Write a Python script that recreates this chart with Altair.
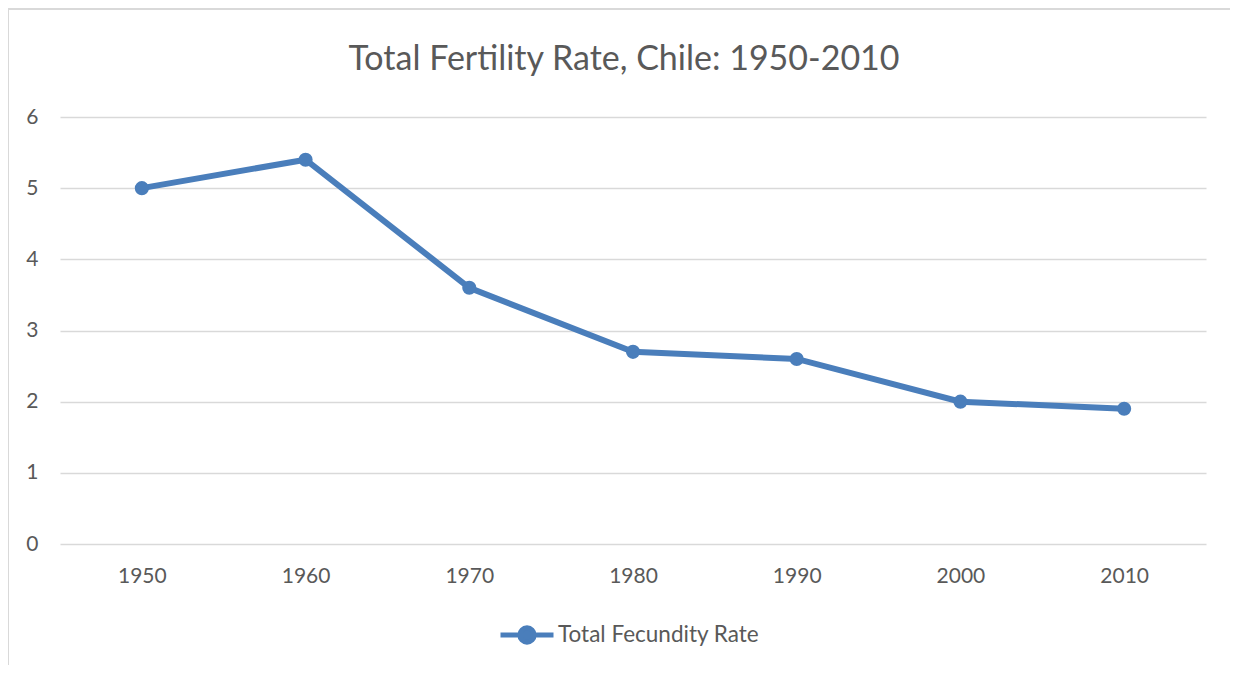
import altair as alt
import pandas as pd

years = ["1950", "1960", "1970", "1980", "1990", "2000", "2010"]
rates = [5.0, 5.4, 3.6, 2.7, 2.6, 2.0, 1.9]
series_name = "Total Fecundity Rate"
title_text = "Total Fertility Rate, Chile: 1950-2010"

df = pd.DataFrame({"year": years, "rate": rates, "series": [series_name] * len(years)})

BLUE = "#4a7ebb"
GRAY = "#595959"
FONT = "Lato"

legend_symbol = "M-1,0L1,0M-0.27,0A0.27,0.27 0 1,1 0.27,0A0.27,0.27 0 1,1 -0.27,0Z"

base = alt.Chart(df)

line = base.mark_line(strokeWidth=6, point=alt.OverlayMarkDef(size=200, filled=True, color=BLUE)).encode(
    x=alt.X("year:O", scale=alt.Scale(padding=0.5),
            axis=alt.Axis(title=None, labelAngle=0, domain=False, ticks=False, grid=False,
                          labelPadding=21, labelFontSize=21, labelColor=GRAY, labelFont=FONT)),
    y=alt.Y("rate:Q", scale=alt.Scale(domain=[0, 6], nice=False),
            axis=alt.Axis(title=None, values=[0, 1, 2, 3, 4, 5, 6], domain=False, ticks=False,
                          gridColor="#d9d9d9", gridWidth=1.3, labelPadding=22,
                          labelFontSize=21, labelColor=GRAY, labelFont=FONT)),
    color=alt.Color("series:N", scale=alt.Scale(range=[BLUE]),
                    legend=alt.Legend(title=None, orient="none", legendX=438, legendY=489,
                                      symbolType=legend_symbol, symbolSize=2809,
                                      symbolStrokeWidth=5, symbolFillColor=BLUE,
                                      symbolStrokeColor=BLUE, labelFontSize=22.5,
                                      labelColor=GRAY, labelFont=FONT, labelOffset=2,
                                      labelLimit=0)),
)

# outer chart frame (decoration)
frame = alt.Chart(pd.DataFrame({"k": [0]})).mark_rule(color="#d9d9d9", strokeWidth=2).encode(
    x=alt.value(-52), y=alt.value(-109), y2=alt.value(548)
)
frame_top = alt.Chart(pd.DataFrame({"k": [0]})).mark_rule(color="#d9d9d9", strokeWidth=2).encode(
    x=alt.value(-52), x2=alt.value(1170), y=alt.value(-108)
)

chart = alt.layer(frame, frame_top, line).properties(
    width=1146, height=427,
    title=alt.TitleParams(title_text, fontSize=34, font=FONT, fontWeight="normal",
                          color=GRAY, offset=-70, dx=-9),
    autosize=alt.AutoSizeParams(type="none"),
    padding={"left": 52, "top": 109, "right": 24, "bottom": 121},
).configure_view(stroke=None)

chart.save("out.html", embed_options={"renderer": "svg", "actions": False})
